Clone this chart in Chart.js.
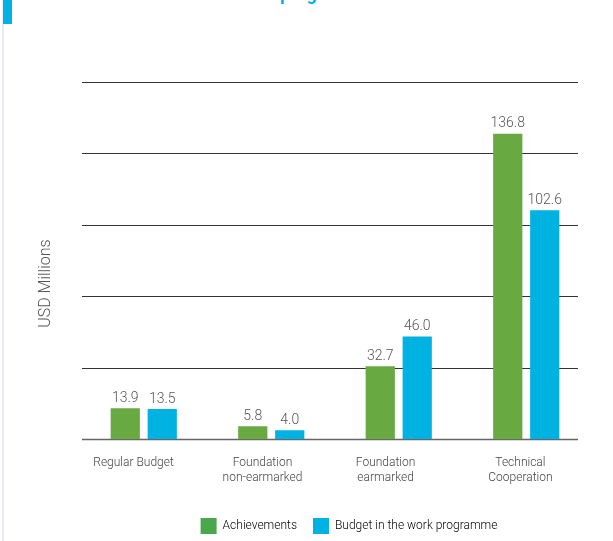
<!DOCTYPE html>
<html>
<head>
<meta charset="utf-8">
<script src="https://cdn.jsdelivr.net/npm/chart.js@4.4.0/dist/chart.umd.min.js"></script>
<style>
  html, body { margin: 0; padding: 0; background: #fff; }
  #wrap { position: relative; width: 613px; height: 541px; overflow: hidden; }
  #edge { position: absolute; left: 2px; top: 0; width: 2px; height: 541px; background: #eceaf6; }
  #tab { position: absolute; left: 3px; top: 0; width: 9px; height: 24px; background: #00b3e4; }
  #title { position: absolute; left: 88px; top: -17px; font: bold 18px Roboto, sans-serif; color: #00b3e4; white-space: nowrap; }
  canvas { position: absolute; left: 0; top: 0; }
</style>
</head>
<body>
<div id="wrap">
  <div id="edge"></div>
  <div id="tab"></div>
  <div id="title">Achievements vs. work programme</div>
  <canvas id="c" width="613" height="541"></canvas>
</div>
<script>
const categories = [["Regular Budget"], ["Foundation", "non-earmarked"], ["Foundation", "earmarked"], ["Technical", "Cooperation"]];
const achievements = [13.9, 5.8, 32.7, 136.8];
const budget = [13.5, 4.0, 46.0, 102.6];
const seriesNames = ["Achievements", "Budget in the work programme"];
const yTitle = "USD Millions";
const yTickStep = 32;
const yMax = 160;

// trailing spaces nudge each centred category label slightly left, as in the reference
const labelNudge = [7, 6, 9, 4];

const decorPlugin = {
  id: 'decor',
  afterLayout(chart) {
    chart.legend.left += 14;
    chart.legend.right += 14;
  },
  beforeDatasetsDraw(chart) {
    const ctx = chart.ctx;
    const y = chart.scales.y;
    const left = chart.chartArea.left + 2;
    const right = chart.chartArea.right - 12;
    ctx.save();
    y.ticks.forEach(t => {
      const py = Math.round(y.getPixelForValue(t.value)) + 0.5;
      if (t.value === 0) {
        ctx.strokeStyle = '#666'; ctx.lineWidth = 1.5;
      } else {
        ctx.strokeStyle = '#333'; ctx.lineWidth = 1;
      }
      ctx.beginPath(); ctx.moveTo(left, py); ctx.lineTo(right, py); ctx.stroke();
    });
    ctx.translate(46, (y.top + y.bottom) / 2 + 23);
    ctx.rotate(-Math.PI / 2);
    ctx.font = '300 16px Roboto, sans-serif';
    ctx.fillStyle = '#555';
    ctx.textAlign = 'center';
    ctx.textBaseline = 'middle';
    ctx.fillText(yTitle, 0, 0);
    ctx.restore();
  },
  afterDatasetsDraw(chart) {
    const ctx = chart.ctx;
    ctx.save();
    ctx.font = '300 14px Roboto, sans-serif';
    ctx.fillStyle = '#555';
    ctx.textAlign = 'center';
    ctx.textBaseline = 'bottom';
    chart.data.datasets.forEach((ds, i) => {
      chart.getDatasetMeta(i).data.forEach((el, j) => {
        ctx.fillText(ds.data[j].toFixed(1), el.x, el.y - 3);
      });
    });
    ctx.restore();
  }
};

new Chart(document.getElementById('c'), {
  type: 'bar',
  data: {
    labels: categories,
    datasets: [
      { label: seriesNames[0], data: achievements, backgroundColor: '#69a942', borderWidth: 0, categoryPercentage: 0.58, barPercentage: 0.79 },
      { label: seriesNames[1], data: budget, backgroundColor: '#00b2e2', borderWidth: 0, categoryPercentage: 0.58, barPercentage: 0.79 }
    ]
  },
  options: {
    responsive: false,
    animation: false,
    devicePixelRatio: 1,
    layout: { padding: { left: 80, right: 23, top: 82, bottom: -3 } },
    plugins: {
      legend: {
        position: 'bottom',
        labels: {
          boxWidth: 16, boxHeight: 16, padding: 16,
          color: '#555',
          font: { family: 'Roboto, sans-serif', size: 12, weight: '300' },
          generateLabels(chart) {
            return chart.data.datasets.map((ds, i) => ({
              text: ds.label, fillStyle: i === 0 ? '#4aa84a' : '#00b2e2', strokeStyle: 'transparent', lineWidth: 0, datasetIndex: i
            }));
          }
        }
      },
      tooltip: { enabled: false }
    },
    scales: {
      x: {
        grid: { display: false, drawTicks: false },
        border: { display: false },
        ticks: {
          color: '#444', padding: 17, maxRotation: 0,
          font: { family: 'Roboto, sans-serif', size: 12, weight: '300' },
          callback(value, index) {
            const pad = ' '.repeat(labelNudge[index]);
            return categories[index].map(s => s + pad);
          }
        }
      },
      y: {
        min: 0, max: yMax,
        grid: { display: false, drawTicks: false },
        border: { display: false },
        ticks: { display: false, stepSize: yTickStep },
        title: { display: false }
      }
    }
  },
  plugins: [decorPlugin]
});
</script>
</body>
</html>
